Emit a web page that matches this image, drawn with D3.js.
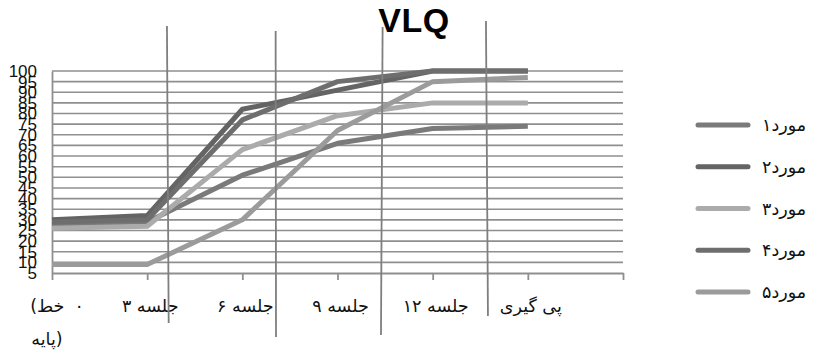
<!DOCTYPE html>
<html>
<head>
<meta charset="utf-8">
<script src="https://cdn.jsdelivr.net/npm/d3@7/dist/d3.min.js"></script>
<style>
  html, body { margin: 0; padding: 0; background: #fff; }
  svg { display: block; }
</style>
</head>
<body>
<svg id="chart" width="814" height="355"></svg>
<script>
// Sessions on the x axis (last slot left empty, as in the workbook)
const categories = ["۰ (خط پایه)", "جلسه ۳", "جلسه ۶", "جلسه ۹", "جلسه ۱۲", "پی گیری", ""];
// The baseline label wraps onto two lines; its pieces are set left to right
const baselineLabelLines = [["(", "خط", "۰"], ["پایه", ")"]];

// VLQ scores per case
const seriesNames = ["مورد۱", "مورد۲", "مورد۳", "مورد۴", "مورد۵"];
const case1 = [28, 29, 51, 66, 73, 74];
const case2 = [30, 32, 82, 91, 100, 100];
const case3 = [26, 27, 63, 79, 85, 85];
const case4 = [29, 30, 77, 95, 100, 100];
const case5 = [9, 9, 30, 72, 95, 97];
const seriesValues = [case1, case2, case3, case4, case5];

const yTicks = d3.range(5, 101, 5);

// Phase-change dividers, placed between sessions (category index units)
const phaseLines = [
  { top: 1.208, bottom: 1.226, y1: 26, y2: 323 },
  { top: 2.350, bottom: 2.354, y1: 31, y2: 337 },
  { top: 3.474, bottom: 3.457, y1: 27, y2: 335 },
  { top: 4.560, bottom: 4.581, y1: 21, y2: 316 }
];

const colors = ["#7a7a7a", "#646464", "#ababab", "#6e6e6e", "#9b9b9b"];
const gridColor = "#8f8f8f";
const arabicFont = "DejaVu Sans, sans-serif";
const labelSize = 17.5;

const svg = d3.select("#chart");

const x = d3.scaleLinear().domain([0, categories.length - 1]).range([52, 623]);
const y = d3.scaleLinear().domain([5, 100]).range([273, 71]);

// Horizontal gridlines
svg.append("g")
  .selectAll("line")
  .data(yTicks.filter(v => v > 5))
  .join("line")
  .attr("x1", x(0)).attr("x2", x(categories.length - 1))
  .attr("y1", d => y(d)).attr("y2", d => y(d))
  .attr("stroke", gridColor)
  .attr("stroke-width", 1.6);

// Y axis
const yAxis = svg.append("g")
  .attr("transform", `translate(${x(0)},0)`)
  .call(d3.axisLeft(y).tickValues(yTicks).tickSize(0).tickPadding(15).tickFormat(d3.format("d")));
yAxis.select(".domain").attr("stroke", gridColor).attr("stroke-width", 1.8);
yAxis.selectAll("text")
  .attr("font-family", "Liberation Sans, Arial, sans-serif")
  .attr("font-size", 17)
  .attr("fill", "#111");

// X axis
const xAxis = svg.append("g")
  .attr("transform", `translate(0,${y(5)})`)
  .call(d3.axisBottom(x).tickValues(d3.range(categories.length)).tickSize(7).tickSizeOuter(0).tickFormat(""));
xAxis.select(".domain").attr("stroke", gridColor).attr("stroke-width", 1.8);
xAxis.selectAll(".tick line").attr("stroke", gridColor).attr("stroke-width", 1.8);

// Category labels
const labelG = svg.append("g")
  .attr("font-family", arabicFont)
  .attr("font-size", labelSize)
  .attr("fill", "#111");

// Lays out separate pieces left to right, centred on cx
function piecewiseLabel(pieces, cx, baseline, gap) {
  const nodes = pieces.map(p => labelG.append("text").attr("y", baseline).text(p));
  const widths = nodes.map(n => n.node().getComputedTextLength());
  const total = d3.sum(widths) + gap.reduce((a, b) => a + b, 0);
  let cur = cx - total / 2;
  nodes.forEach((n, k) => {
    n.attr("x", cur);
    cur += widths[k] + (gap[k] || 0);
  });
}

categories.forEach((c, i) => {
  if (!c) return;
  if (i === 0) {
    piecewiseLabel(baselineLabelLines[0], x(i) + 5, 312, [0, 10]);
    piecewiseLabel(baselineLabelLines[1], x(i) - 5, 345, [0]);
  } else {
    labelG.append("text")
      .attr("x", x(i) + 3).attr("y", 312)
      .attr("text-anchor", "middle")
      .text(c);
  }
});

// Series lines
const line = d3.line()
  .x((d, i) => x(i))
  .y(d => y(d));

svg.append("g")
  .selectAll("path")
  .data(seriesValues)
  .join("path")
  .attr("d", d => line(d))
  .attr("fill", "none")
  .attr("stroke", (d, i) => colors[i])
  .attr("stroke-width", 5)
  .attr("stroke-linejoin", "round");

// Phase dividers
svg.append("g")
  .selectAll("line")
  .data(phaseLines)
  .join("line")
  .attr("x1", d => x(d.top)).attr("x2", d => x(d.bottom))
  .attr("y1", d => d.y1).attr("y2", d => d.y2)
  .attr("stroke", "#7f7f7f")
  .attr("stroke-width", 1.8);

// Title
svg.append("text")
  .attr("x", 414)
  .attr("y", 32)
  .attr("text-anchor", "middle")
  .attr("font-family", "Liberation Sans, Arial, sans-serif")
  .attr("font-weight", "bold")
  .attr("font-size", 34)
  .attr("letter-spacing", 0.5)
  .attr("fill", "#000")
  .text("VLQ");

// Legend
const legend = svg.append("g");
const legendY = d3.scalePoint().domain(seriesNames).range([125, 292]);
seriesNames.forEach((name, i) => {
  legend.append("line")
    .attr("x1", 698).attr("x2", 748)
    .attr("y1", legendY(name)).attr("y2", legendY(name))
    .attr("stroke", colors[i])
    .attr("stroke-width", 5)
    .attr("stroke-linecap", "round");
  legend.append("text")
    .attr("x", 762)
    .attr("y", legendY(name))
    .attr("dy", "0.35em")
    .attr("font-family", arabicFont)
    .attr("font-size", labelSize)
    .attr("fill", "#111")
    .text(name);
});
</script>
</body>
</html>
